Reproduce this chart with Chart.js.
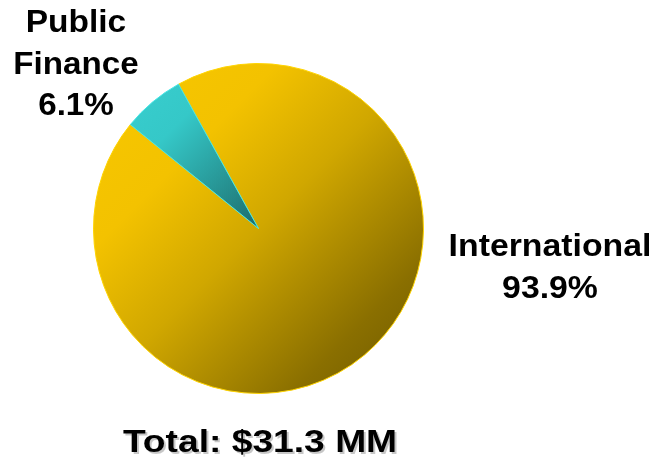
<!DOCTYPE html>
<html>
<head>
<meta charset="utf-8">
<script src="https://cdn.jsdelivr.net/npm/chart.js@4"></script>
<style>
  html, body { margin: 0; padding: 0; background: #ffffff; }
  #wrap { width: 659px; height: 462px; position: relative; }
</style>
</head>
<body>
<div id="wrap"><canvas id="pieCartera"></canvas></div>
<script>
// datos del grafico
var categorias = ["International", "Public Finance"];
var porcentajes = [93.9, 6.1];
var etiquetas = [["International", "93.9%"], ["Public", "Finance", "6.1%"]];
var tituloTotal = "Total: $31.3 MM";

// gradiente segun el area del grafico
function gradiente(ctx, area, paradas){
  var g = ctx.createLinearGradient(area.left, area.top, area.right, area.bottom);
  paradas.forEach(function(p){ g.addColorStop(p[0], p[1]); });
  return g;
}

var paradasAmarillo = [[0, "#f8c800"], [0.28, "#f3c200"], [0.5, "#d0a700"], [0.8, "#8a6f00"], [1, "#6c5800"]];
var paradasTurquesa = [[0, "#3ad2d2"], [0.22, "#35c8c8"], [0.5, "#1c6c6c"], [1, "#0f4444"]];

// textos dibujados sobre el canvas
function textoAncho(ctx, texto, x, y, size, escalaX, sombra){
  ctx.save();
  ctx.font = "bold " + size + "px 'Liberation Sans', Arial, sans-serif";
  ctx.textAlign = "center";
  ctx.textBaseline = "alphabetic";
  ctx.translate(x, y);
  ctx.scale(escalaX, 1);
  if (sombra) {
    ctx.fillStyle = "rgba(0,0,0,0.22)";
    ctx.fillText(texto, 2 / escalaX, 2);
  }
  ctx.fillStyle = "#000000";
  ctx.fillText(texto, 0, 0);
  ctx.restore();
}

var pluginTextos = {
  id: "textos",
  afterDraw: function(chart){
    var ctx = chart.ctx;
    var pf = etiquetas[1];
    textoAncho(ctx, pf[0], 76, 32, 31, 1.08, false);
    textoAncho(ctx, pf[1], 76, 74, 31, 1.07, false);
    textoAncho(ctx, pf[2], 76, 115, 31, 1.07, false);
    var it = etiquetas[0];
    textoAncho(ctx, it[0], 550, 256, 31, 1.09, false);
    textoAncho(ctx, it[1], 550, 298, 31, 1.09, false);
    textoAncho(ctx, tituloTotal, 260, 452, 31, 1.2, true);
  }
};

var canvas = document.getElementById("pieCartera");
var ctx = canvas.getContext("2d");

var config = {
  type: "pie",
  data: {
    labels: categorias,
    datasets: [
      {
        data: porcentajes,
        backgroundColor: function(context){
          var area = context.chart.chartArea;
          if (!area) { return context.dataIndex == 0 ? "#e0b400" : "#30b0b0"; }
          return gradiente(context.chart.ctx, area, context.dataIndex == 0 ? paradasAmarillo : paradasTurquesa);
        },
        borderColor: ["#ffd400", "#45e6e6"],
        borderWidth: 1,
      },
    ],
  },
  options: {
    responsive: true,
    maintainAspectRatio: false,
    animation: false,
    rotation: -29,
    layout: {
      padding: { left: 93, top: 63, right: 235, bottom: 68 },
    },
    plugins: {
      legend: { display: false },
      tooltip: { enabled: false },
      title: { display: false },
    },
  },
  plugins: [pluginTextos],
};

var grafico = new Chart(ctx, config);
</script>
</body>
</html>
